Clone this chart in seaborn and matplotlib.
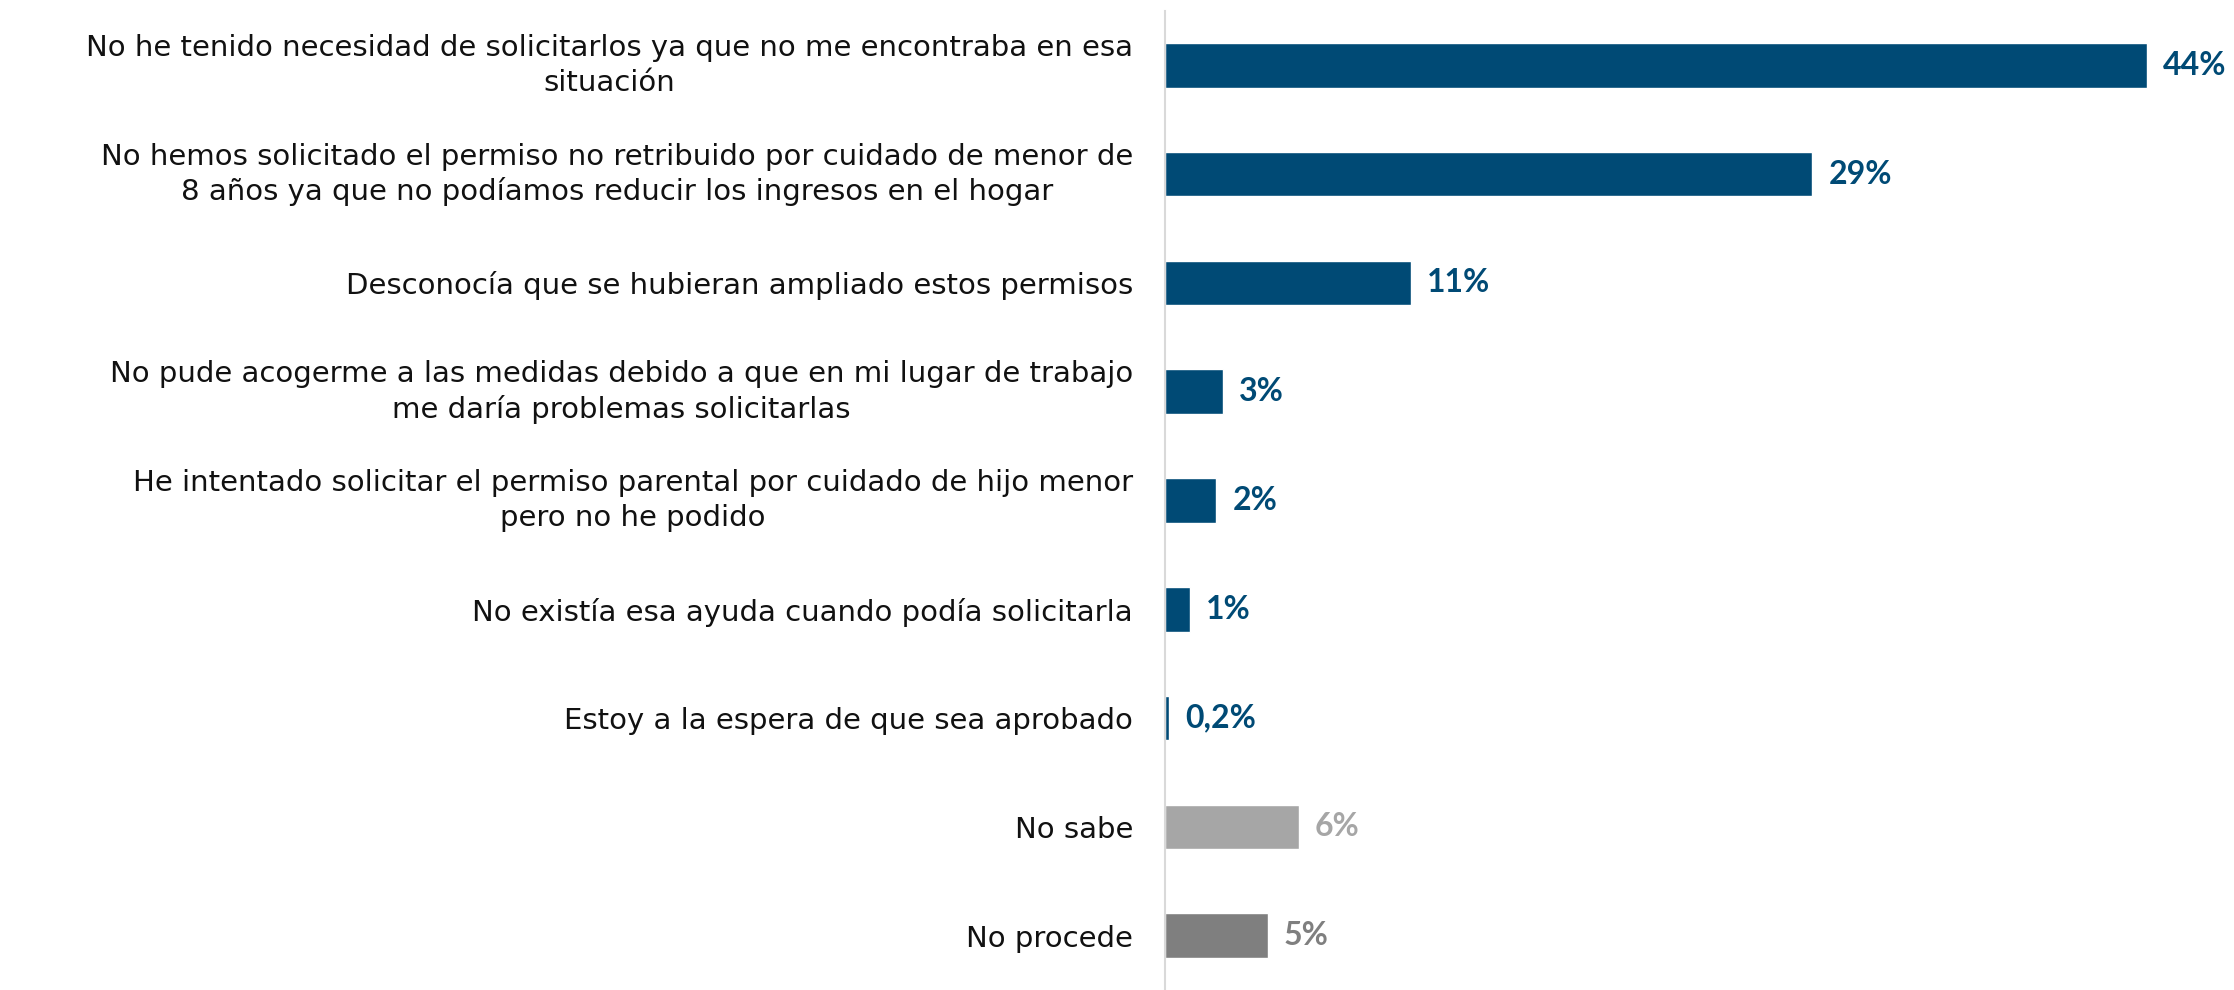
import matplotlib
matplotlib.use('Agg')
import matplotlib.pyplot as plt
import matplotlib.transforms as mtransforms
import seaborn as sns
import numpy as np

# Data
categories = [
    'No he tenido necesidad de solicitarlos ya que no me encontraba en esa\nsituación',
    'No hemos solicitado el permiso no retribuido por cuidado de menor de\n8 años ya que no podíamos reducir los ingresos en el hogar',
    'Desconocía que se hubieran ampliado estos permisos',
    'No pude acogerme a las medidas debido a que en mi lugar de trabajo\nme daría problemas solicitarlas',
    'He intentado solicitar el permiso parental por cuidado de hijo menor\npero no he podido',
    'No existía esa ayuda cuando podía solicitarla',
    'Estoy a la espera de que sea aprobado',
    'No sabe',
    'No procede',
]
values = [44, 29, 11, 2.6, 2.3, 1.1, 0.2, 6.0, 4.6]
value_labels = ['44%', '29%', '11%', '3%', '2%', '1%', '0,2%', '6%', '5%']

blue = '#004a75'
bar_colors = [blue] * 7 + ['#a6a6a6', '#7f7f7f']

sns.set_style('white')
plt.rcParams['font.family'] = ['DejaVu Sans']

fig = plt.figure(figsize=(22.34, 9.9), dpi=100)
ax = fig.add_axes([0.5215, 0.0, 0.4785, 0.989])

sns.barplot(x=values, y=categories, hue=categories, palette=bar_colors,
            orient='h', width=0.41, legend=False, saturation=1, ax=ax)

ax.set_xlim(0, 47.9)
ax.set_ylim(len(categories) - 0.5, -0.5)

# value labels
for i, (v, lab) in enumerate(zip(values, value_labels)):
    ax.text(v + 0.72, i, lab, va='center', ha='left', color=bar_colors[i],
            fontsize=23, fontweight='bold', family=['Lato', 'DejaVu Sans'])

# spines and ticks
for s in ['top', 'right', 'bottom']:
    ax.spines[s].set_visible(False)
ax.spines['left'].set_color('#d9d9d9')
ax.spines['left'].set_linewidth(1.5)
ax.set_xticks([])
ax.set_yticks(np.arange(-0.5, len(categories), 1), minor=True)
ax.tick_params(axis='y', which='minor', length=6.5, color='#d9d9d9', width=1.5)
ax.tick_params(axis='y', which='major', length=0, pad=23)
shift_up = mtransforms.ScaledTranslation(0, 6 / 100, fig.dpi_scale_trans)
for t in ax.get_yticklabels():
    t.set_fontsize(21)
    t.set_color('#111111')
    t.set_multialignment('center')
    t.set_linespacing(1.3)
    if '\n' in t.get_text():
        t.set_transform(t.get_transform() + shift_up)
ax.set_xlabel('')
ax.set_ylabel('')

fig.savefig('out.png', dpi=100)
